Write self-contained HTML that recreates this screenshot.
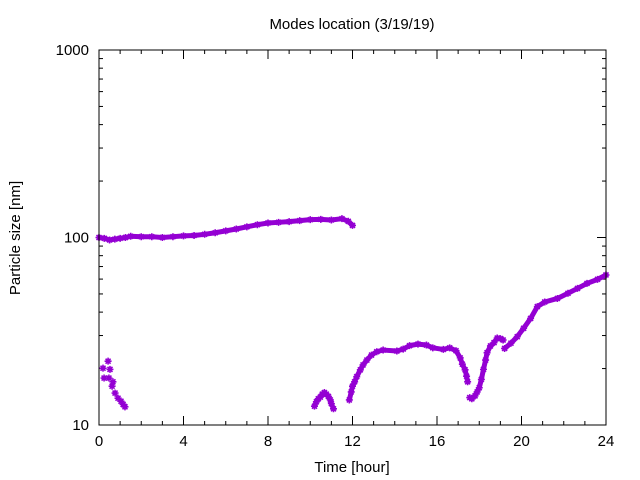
<!DOCTYPE html>
<html><head><meta charset="utf-8"><style>
body{margin:0;background:#fff;}
svg{display:block;font-family:"Liberation Sans",sans-serif;}
</style></head><body>
<svg id="chart" width="640" height="480" viewBox="0 0 640 480">
<rect x="0" y="0" width="640" height="480" fill="#fff"/>
<text x="352" y="29" text-anchor="middle" font-size="15" fill="#000">Modes location (3/19/19)</text>
<g id="axes"></g>
<g id="series"></g>
<rect x="99" y="50" width="507" height="375" fill="none" stroke="#000" stroke-width="1"/>
<text x="352" y="472" text-anchor="middle" font-size="15" fill="#000">Time [hour]</text>
<text x="20" y="238" text-anchor="middle" font-size="15" fill="#000" transform="rotate(-90 20 238)">Particle size [nm]</text>
</svg>
<script>
const xTicks=[0,4,8,12,16,20,24];
const yTicks=[10,100,1000];
// segments: time (hour) and size (nm)
const seg1T=[0,0.25,0.5,0.75,1,1.25,1.5,2,2.5,3,3.5,4,4.5,5,5.5,6,6.5,7,7.5,8,8.5,9,9.5,10,10.5,11,11.5,11.8,12];
const seg1V=[100,99,97,98,99,100,101.5,101,101,100,101,102,102.5,104,106,108.5,111,114,117,119.5,120.5,121.5,123,124.5,125,124,126,122,116];
const seg2T=[0.19,0.24,0.43,0.47,0.52,0.62,0.66,0.76,0.9,1.04,1.14,1.23];
const seg2V=[20.1,17.8,21.9,17.8,19.8,16.1,17,14.8,13.9,13.4,12.9,12.5];
const seg3T=[10.2,10.29,10.38,10.48,10.57,10.67,10.76,10.86,10.95,11.0,11.1];
const seg3V=[12.6,13.3,13.8,14.1,14.6,14.9,14.6,14.2,13.6,13.0,12.2];
const seg4T=[11.85,11.94,12.0,12.1,12.2,12.37,12.5,12.68,12.9,13.15,13.45,14.1,14.4,14.7,15.1,15.5,15.8,16.3,16.6,16.9,17.1,17.2,17.33,17.4,17.45];
const seg4V=[13.6,15.0,16.1,17.0,18.1,19.7,20.9,22.2,23.6,24.6,25.1,24.8,25.4,26.5,27.0,26.7,25.8,25.3,25.8,24.9,22.8,21.1,19.7,18.2,17.0];
const seg5T=[17.55,17.65,17.8,17.9,18.0,18.1,18.2,18.3,18.37,18.53,18.7,18.85,19.0,19.13];
const seg5V=[14.0,13.8,14.3,15.0,15.8,17.5,19.8,22.2,24.3,26.4,27.5,29.1,28.9,28.4];
const seg6T=[19.2,19.5,19.8,20.1,20.43,20.75,21.1,21.7,22.2,22.65,23.1,23.6,24.0];
const seg6V=[25.6,27.3,29.6,32.8,37.0,42.8,45.3,47.3,50.4,53.5,56.9,59.8,63.1];

const X0=99,X1=606,Y0=425,Y1=50;
function xs(t){return X0+(t-0)/(24-0)*(X1-X0);}
function ys(v){return Y0-(Math.log10(v)-1)/2*(Y0-Y1);}
const NS="http://www.w3.org/2000/svg";
const axes=document.getElementById('axes');
const ser=document.getElementById('series');
function mk(tag,attrs,parent){const e=document.createElementNS(NS,tag);for(const k in attrs)e.setAttribute(k,attrs[k]);parent.appendChild(e);return e;}
// x ticks
for(let h=0;h<=24;h++){
  const x=xs(h);const major=h%4===0;const L=major?9:4;
  const a=mk('line',{x1:x,x2:x,y1:Y0,y2:Y0-L,stroke:'#000'},axes);
  
  
  const b=mk('line',{x1:x,x2:x,y1:Y1,y2:Y1+L,stroke:'#000'},axes);
  
  
}
xTicks.forEach(h=>{
  const t=mk('text',{x:xs(h),y:446,'text-anchor':'middle','font-size':15},axes);
  t.textContent=h;
  
  
});
// y ticks
for(let d=1;d<=2;d++){for(let m=1;m<=9;m++){
  const v=m*Math.pow(10,d);const y=ys(v);const major=m===1;const L=major?9:4;
  const a=mk('line',{x1:X0,x2:X0+L,y1:y,y2:y,stroke:'#000'},axes);
  
  
  const b=mk('line',{x1:X1,x2:X1-L,y1:y,y2:y,stroke:'#000'},axes);
  
  
}}
yTicks.forEach(v=>{
  const t=mk('text',{x:89,y:ys(v)+5,'text-anchor':'end','font-size':15},axes);
  t.textContent=v;
  
  
});
const C='#9400d3';
function drawSeg(T,V,line){
  if(line){
    const pts=T.map((t,i)=>xs(t)+','+ys(V[i])).join(' ');
    const p=mk('polyline',{points:pts,fill:'none',stroke:C,'stroke-width':5,'stroke-linejoin':'round','stroke-linecap':'round'},ser);
    
    
  }
  T.forEach((t,i)=>{
    const x=xs(t),y=ys(V[i]);
    const g=mk('path',{d:`M${x-3.5},${y}H${x+3.5}M${x},${y-3.5}V${y+3.5}M${x-2.5},${y-2.5}L${x+2.5},${y+2.5}M${x-2.5},${y+2.5}L${x+2.5},${y-2.5}`,stroke:C,'stroke-width':1.6},ser);
    
    
  });
}
drawSeg(seg1T,seg1V,true);
drawSeg(seg2T,seg2V,false);
drawSeg(seg3T,seg3V,true);
drawSeg(seg4T,seg4V,true);
drawSeg(seg5T,seg5V,true);
drawSeg(seg6T,seg6V,true);
</script>
</body></html>
